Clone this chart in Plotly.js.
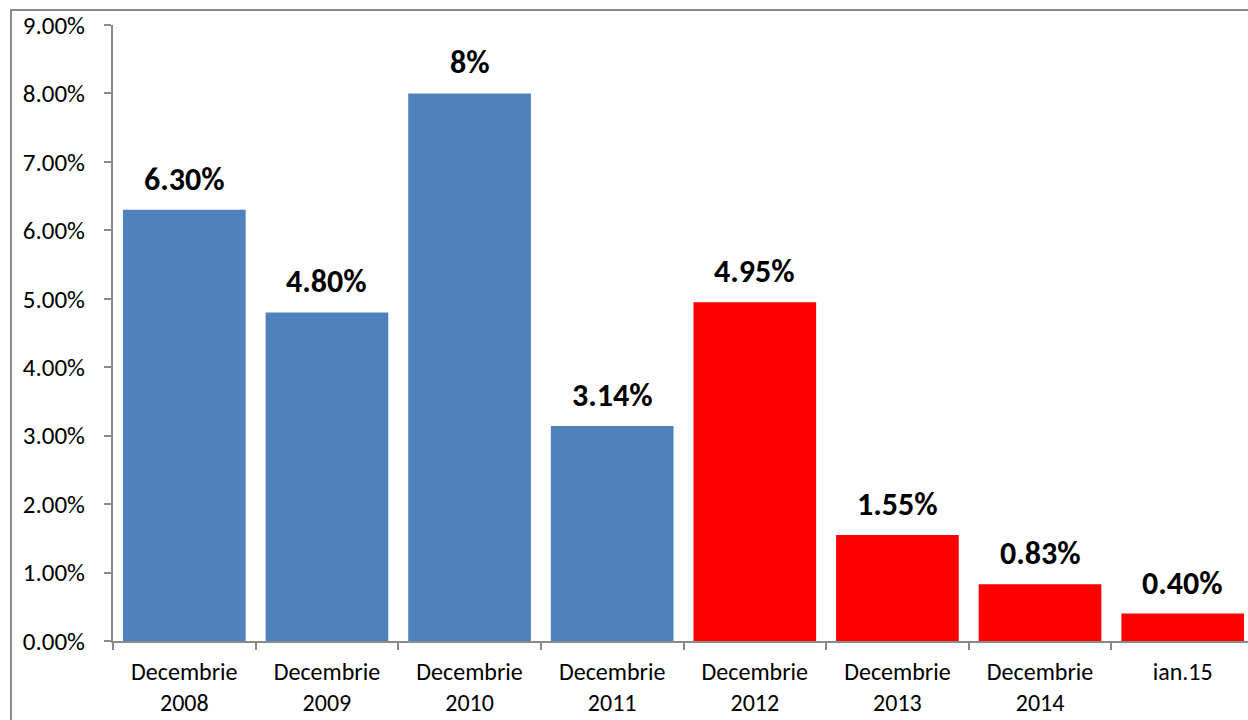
<!DOCTYPE html>
<html>
<head>
<meta charset="utf-8">
<script src="https://cdn.plot.ly/plotly-3.0.1.min.js"></script>
<style>
html,body{margin:0;padding:0;width:1248px;height:720px;overflow:hidden;background:#fff;}
#frame{position:absolute;left:10px;top:9px;border:2px solid #8a8a8a;width:1300px;height:760px;}
#chart{position:absolute;left:0;top:-30px;}
</style>
</head>
<body>
<div id="frame"><div id="chart"></div></div>
<script>
const categories = ["Decembrie<br>2008","Decembrie<br>2009","Decembrie<br>2010","Decembrie<br>2011","Decembrie<br>2012","Decembrie<br>2013","Decembrie<br>2014","ian.15"];
const values = [0.063, 0.048, 0.08, 0.0314, 0.0495, 0.0155, 0.0083, 0.004];
const labels = ["6.30%","4.80%","8%","3.14%","4.95%","1.55%","0.83%","0.40%"];
const colors = ["#4F81BD","#4F81BD","#4F81BD","#4F81BD","#FF0000","#FF0000","#FF0000","#FF0000"];
const yTicks = [0,0.01,0.02,0.03,0.04,0.05,0.06,0.07,0.08,0.09];

const font = "Carlito, Calibri, Lato, 'Open Sans', sans-serif";

const trace = {
  type: 'bar',
  x: categories,
  y: values,
  marker: {color: colors, line: {width: 0}},
  width: 0.86,
  hoverinfo: 'none'
};

const annotations = categories.map((c, i) => ({
  x: c, y: values[i], xref: 'x', yref: 'y',
  text: '<b>' + labels[i] + '</b>',
  showarrow: false, yanchor: 'bottom', yshift: 9,
  font: {family: font, size: 32, color: '#000'}
}));

const layout = {
  width: 1252, height: 780,
  margin: {l: 101, r: 10, t: 44, b: 120},
  paper_bgcolor: 'rgba(0,0,0,0)', plot_bgcolor: 'rgba(0,0,0,0)',
  showlegend: false,
  bargap: 0.14,
  xaxis: {
    type: 'category',
    range: [-0.5, 7.5],
    showline: true, linecolor: '#8a8a8a', linewidth: 2,
    ticks: 'outside', tickson: 'boundaries', ticklen: 7, tickcolor: '#8a8a8a', tickwidth: 2,
    tickfont: {family: font, size: 24, color: '#000'},
    showgrid: false, zeroline: false, fixedrange: true,
    ticklabelstandoff: 8, ticklabeloverflow: 'allow'
  },
  yaxis: {
    range: [0, 0.09],
    tickvals: yTicks,
    tickformat: '.2%',
    showline: true, linecolor: '#8a8a8a', linewidth: 2,
    ticks: 'outside', ticklen: 7, tickcolor: '#8a8a8a', tickwidth: 2,
    tickfont: {family: font, size: 25, color: '#000'},
    showgrid: false, zeroline: false, fixedrange: true,
    ticklabelstandoff: 14, ticklabeloverflow: 'allow'
  },
  annotations: annotations
};

Plotly.newPlot('chart', [trace], layout, {displayModeBar: false, staticPlot: true});
</script>
</body>
</html>
